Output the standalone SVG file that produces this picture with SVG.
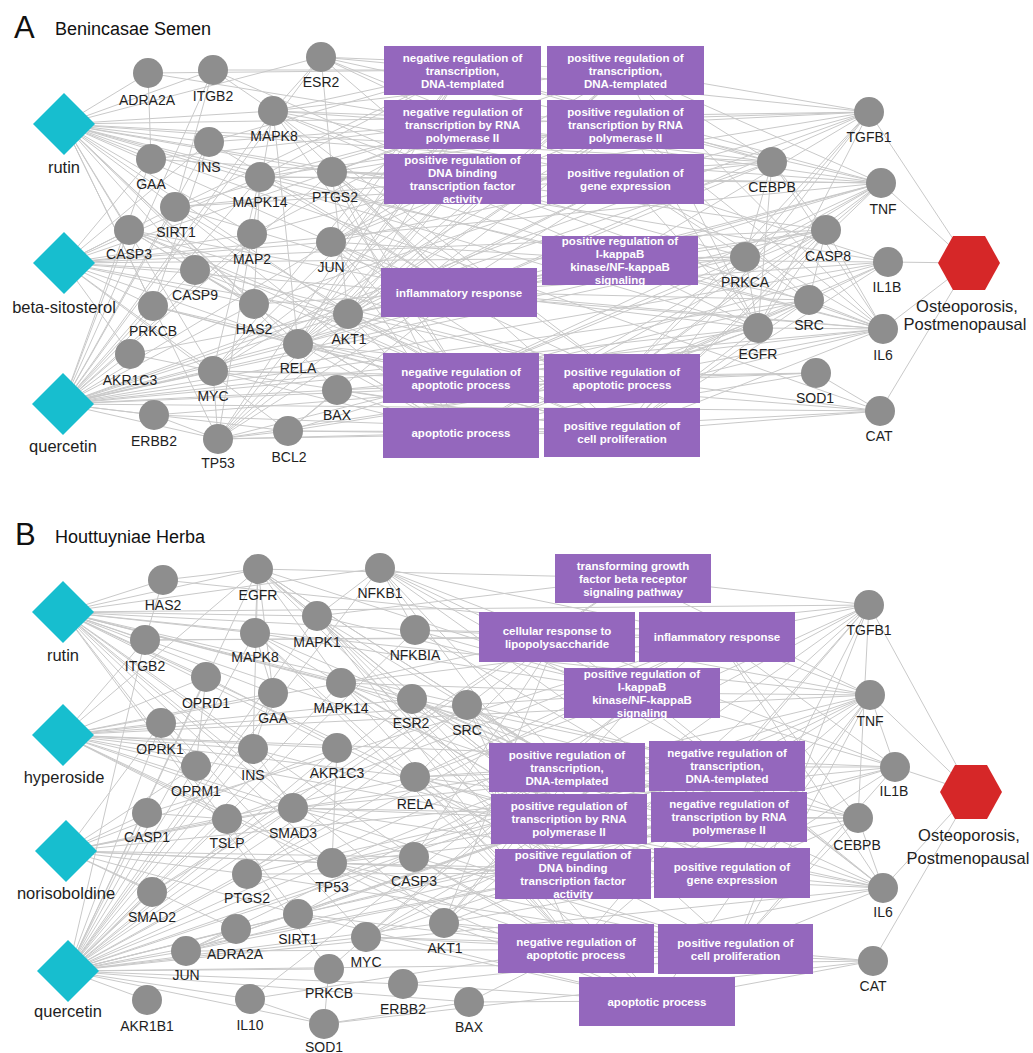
<svg xmlns="http://www.w3.org/2000/svg" xmlns:xlink="http://www.w3.org/1999/xlink" width="1033" height="1053" viewBox="0 0 1033 1053">
<style>
.e{stroke:#c9c9c9;stroke-width:1;fill:none}
.n{fill:#8e8e8e}
.d{fill:#17becf}
.h{fill:#d62728}
.go rect{fill:#9467bd}
.go text{fill:#fff;font-family:"Liberation Sans",Arial,sans-serif;font-weight:bold;font-size:11.5px;text-anchor:middle}
.l{font-family:"Liberation Sans",Arial,sans-serif;font-size:14px;fill:#1e1e1e;text-anchor:middle}
.dl{font-size:16.5px}
.t{font-family:"Liberation Sans",Arial,sans-serif;fill:#111}
</style>
<defs>
<path id="dm" d="M0 -31L31 0L0 31L-31 0Z"/>
<path id="hx" d="M-31 0L-16 -27L16 -27L31 0L16 27L-16 27Z"/>
</defs>
<rect width="1033" height="1053" fill="#fff"/>
<g id="titles">
<text class="t" x="14" y="38" font-size="31">A</text>
<text class="t" x="55" y="35" font-size="18">Benincasae Semen</text>
<text class="t" x="15" y="545" font-size="31">B</text>
<text class="t" x="55" y="543" font-size="18">Houttuyniae Herba</text>
</g>
<g id="connectors">
<path class="e" d="M64 124L148 73M64 124L213 70M64 124L321 57M64 124L273 111M64 124L151 159M64 124L209 142M64 124L260 177M64 124L332 172M64 124L175 207M64 124L129 230M64 124L252 234M64 124L331 242M64 124L195 270M64 124L254 304M64 124L348 314M64 124L298 344M64 124L213 371M64 124L337 390M64 124L218 439M64 124L153 306M64 124L869 112M64 124L772 162M64 124L881 183M64 124L888 262M64 124L883 329M64 124L880 411M64 124L758 328"/>
<path class="e" d="M64 263L175 207M64 263L129 230M64 263L252 234M64 263L331 242M64 263L195 270M64 263L153 306M64 263L254 304M64 263L348 314M64 263L298 344M64 263L130 354M64 263L213 371M64 263L332 172M64 263L260 177M64 263L151 159M64 263L288 431M64 263L209 142M64 263L881 183M64 263L883 329M64 263L826 230M64 263L745 257"/>
<path class="e" d="M63 404L154 415M63 404L218 439M63 404L288 431M63 404L213 371M63 404L130 354M63 404L153 306M63 404L129 230M63 404L175 207M63 404L151 159M63 404L209 142M63 404L273 111M63 404L260 177M63 404L195 270M63 404L254 304M63 404L298 344M63 404L337 390M63 404L348 314M63 404L331 242M63 404L252 234M63 404L332 172M63 404L321 57M63 404L213 70M63 404L869 112M63 404L772 162M63 404L881 183M63 404L826 230M63 404L745 257M63 404L888 262M63 404L809 300M63 404L758 328M63 404L883 329M63 404L816 373M63 404L880 411"/>
<path class="e" d="M148 73L151 159M148 73L462 70M148 73L462 124M213 70L462 70M213 70L462 179M213 70L175 207M213 70L273 111M321 57L462 70M321 57L625 70M321 57L462 124M321 57L625 124M321 57L625 179M321 57L332 172M321 57L462 179M321 57L273 111"/>
<path class="e" d="M273 111L462 70M273 111L625 70M273 111L462 124M273 111L625 124M273 111L462 179M273 111L625 179M273 111L620 260M273 111L459 292M273 111L461 378M273 111L622 378M273 111L252 234M273 111L298 344M151 159L462 124M151 159L462 179M209 142L462 70M209 142L462 124M209 142L459 292M209 142L153 306"/>
<path class="e" d="M260 177L462 70M260 177L462 124M260 177L625 124M260 177L462 179M260 177L625 179M260 177L620 260M260 177L459 292M260 177L254 304M260 177L213 371M332 172L625 70M332 172L462 124M332 172L625 124M332 172L462 179M332 172L625 179M332 172L620 260M332 172L459 292M332 172L461 378M332 172L622 378M332 172L461 433M332 172L622 432M332 172L348 314"/>
<path class="e" d="M175 207L462 70M175 207L462 124M175 207L462 179M175 207L625 179M175 207L459 292M175 207L461 378M175 207L461 433M129 230L459 292M129 230L461 378M129 230L622 378M129 230L461 433M129 230L622 432M129 230L195 270M252 234L462 124M252 234L462 179M252 234L218 439"/>
<path class="e" d="M331 242L462 70M331 242L625 70M331 242L462 124M331 242L625 124M331 242L462 179M331 242L625 179M331 242L620 260M331 242L459 292M331 242L461 378M331 242L622 378M331 242L461 433M331 242L622 432M195 270L461 378M195 270L622 378M195 270L461 433M195 270L254 304M153 306L461 378M153 306L622 432M153 306L298 344M254 304L459 292M254 304L625 179"/>
<path class="e" d="M348 314L625 70M348 314L462 124M348 314L625 124M348 314L462 179M348 314L625 179M348 314L620 260M348 314L459 292M348 314L461 378M348 314L622 378M348 314L461 433M348 314L622 432M298 344L462 70M298 344L625 70M298 344L462 124M298 344L625 124M298 344L462 179M298 344L625 179M298 344L620 260M298 344L459 292M298 344L461 378M298 344L622 378M298 344L461 433M298 344L622 432"/>
<path class="e" d="M130 354L459 292M130 354L213 371M213 371L462 70M213 371L462 124M213 371L625 124M213 371L462 179M213 371L461 378M213 371L622 378M213 371L461 433M213 371L622 432M213 371L218 439M337 390L461 378M337 390L622 378M337 390L461 433M337 390L622 432M337 390L288 431M154 415L622 432M154 415L622 378M154 415L218 439"/>
<path class="e" d="M218 439L462 70M218 439L625 70M218 439L462 124M218 439L625 124M218 439L462 179M218 439L625 179M218 439L461 378M218 439L622 378M218 439L461 433M218 439L622 432M218 439L288 431M288 431L459 292M288 431L461 378M288 431L622 378M288 431L461 433M288 431L622 432"/>
<path class="e" d="M869 112L969 263M869 112L462 70M869 112L625 70M869 112L462 124M869 112L625 124M869 112L462 179M869 112L625 179M869 112L620 260M869 112L459 292M869 112L622 378M869 112L622 432M869 112L758 328M869 112L745 257M772 162L462 70M772 162L625 70M772 162L462 124M772 162L625 124M772 162L462 179M772 162L625 179M772 162L459 292M772 162L745 257M772 162L758 328M772 162L826 230M772 162L883 329"/>
<path class="e" d="M881 183L969 263M881 183L462 70M881 183L625 70M881 183L462 124M881 183L625 124M881 183L462 179M881 183L625 179M881 183L620 260M881 183L459 292M881 183L461 378M881 183L622 378M881 183L461 433M881 183L622 432M881 183L826 230M881 183L745 257M826 230L462 179M826 230L620 260M826 230L459 292M826 230L461 378M826 230L622 378M826 230L461 433M826 230L622 432M826 230L809 300M826 230L883 329M826 230L758 328"/>
<path class="e" d="M745 257L462 179M745 257L625 179M745 257L620 260M745 257L459 292M745 257L461 378M745 257L622 378M745 257L758 328M745 257L809 300M888 262L969 263M888 262L625 179M888 262L620 260M888 262L459 292M888 262L461 378M888 262L622 378M888 262L622 432M888 262L809 300M809 300L625 124M809 300L620 260M809 300L459 292M809 300L461 378M809 300L622 378M809 300L461 433M809 300L622 432M809 300L758 328M809 300L883 329"/>
<path class="e" d="M758 328L625 70M758 328L625 124M758 328L625 179M758 328L620 260M758 328L459 292M758 328L461 378M758 328L622 378M758 328L461 433M758 328L622 432M758 328L883 329M883 329L969 263M883 329L625 70M883 329L625 124M883 329L462 179M883 329L625 179M883 329L620 260M883 329L459 292M883 329L461 378M883 329L622 378M883 329L461 433M883 329L622 432M816 373L461 378M816 373L622 378M816 373L461 433M816 373L880 411M880 411L969 263M880 411L461 378M880 411L622 378M880 411L461 433M880 411L622 432"/>
<path class="e" d="M63 612L163 580M63 612L258 569M63 612L380 568M63 612L145 640M63 612L255 633M63 612L317 616M63 612L415 630M63 612L206 677M63 612L273 693M63 612L341 683M63 612L412 699M63 612L467 705M63 612L253 749M63 612L337 748M63 612L415 777M63 612L293 808M63 612L332 863M63 612L414 857M63 612L298 914M63 612L444 923M63 612L366 937M63 612L329 969M63 612L869 605M63 612L870 695M63 612L858 818M63 612L883 888"/>
<path class="e" d="M63 735L206 677M63 735L273 693M63 735L341 683M63 735L161 723M63 735L196 766M63 735L253 749M63 735L337 748M63 735L415 777M63 735L227 819M63 735L293 808M63 735L332 863M63 735L414 857M63 735L444 923M63 735L412 699M63 735L467 705M63 735L145 640M63 735L258 569M63 735L870 695M63 735L895 767M63 735L883 888"/>
<path class="e" d="M66 851L147 813M66 851L227 819M66 851L293 808M66 851L247 874M66 851L152 892M66 851L196 766M66 851L161 723M66 851L332 863M66 851L298 914M66 851L414 857M66 851L415 777M66 851L337 748M66 851L236 929M66 851L895 767M66 851L883 888"/>
<path class="e" d="M68 971L147 1000M68 971L250 999M68 971L324 1024M68 971L186 951M68 971L236 929M68 971L152 892M68 971L247 874M68 971L298 914M68 971L366 937M68 971L329 969M68 971L403 984M68 971L469 1002M68 971L444 923M68 971L332 863M68 971L414 857M68 971L293 808M68 971L227 819M68 971L147 813M68 971L253 749M68 971L337 748M68 971L415 777M68 971L196 766M68 971L161 723M68 971L206 677M68 971L273 693M68 971L255 633M68 971L317 616M68 971L258 569M68 971L341 683M68 971L412 699M68 971L467 705M68 971L380 568M68 971L415 630M68 971L145 640M68 971L869 605M68 971L870 695M68 971L895 767M68 971L858 818M68 971L883 888M68 971L873 961"/>
<path class="e" d="M163 580L258 569M163 580L717 637M258 569L255 633M258 569L317 616M258 569L341 683M258 569L412 699M258 569L253 749M258 569L273 693M258 569L633 578M258 569L642 693M258 569L567 767M258 569L569 819M258 569L573 874M258 569L732 873M380 568L317 616M380 568L415 630M380 568L557 637M380 568L717 637M380 568L642 693M380 568L567 767M380 568L727 766M380 568L569 819M380 568L729 817M145 640L163 580M145 640L557 637M145 640L717 637"/>
<path class="e" d="M255 633L273 693M255 633L642 693M255 633L567 767M255 633L569 819M255 633L576 948M255 633L657 1001M317 616L633 578M317 616L642 693M317 616L567 767M317 616L569 819M317 616L573 874M317 616L576 948M317 616L657 1001M415 630L557 637M415 630L717 637M415 630L642 693M415 630L729 817M206 677L196 766M206 677L735 949M273 693L253 749"/>
<path class="e" d="M341 683L557 637M341 683L717 637M341 683L642 693M341 683L567 767M341 683L569 819M341 683L573 874M341 683L576 948M412 699L567 767M412 699L727 766M412 699L569 819M412 699L729 817M412 699L573 874M412 699L732 873M467 705L642 693M467 705L567 767M467 705L727 766M467 705L569 819M467 705L573 874M467 705L576 948M467 705L735 949M161 723L196 766M253 749L293 808M253 749L732 873M337 748L332 863"/>
<path class="e" d="M415 777L557 637M415 777L717 637M415 777L642 693M415 777L567 767M415 777L727 766M415 777L569 819M415 777L729 817M415 777L573 874M415 777L732 873M415 777L576 948M147 813L717 637M147 813L227 819M227 819L717 637M227 819L293 808M293 808L633 578M293 808L567 767M293 808L727 766M293 808L569 819M293 808L729 817M293 808L732 873M293 808L735 949M247 874L557 637M247 874L717 637M247 874L727 766M247 874L732 873M247 874L735 949"/>
<path class="e" d="M332 863L567 767M332 863L727 766M332 863L569 819M332 863L729 817M332 863L573 874M332 863L732 873M332 863L576 948M332 863L735 949M332 863L657 1001M414 857L576 948M414 857L735 949M414 857L657 1001M414 857L557 637M152 892L633 578M152 892L293 808M298 914L567 767M298 914L727 766M298 914L729 817M298 914L576 948M298 914L657 1001M236 929L186 951"/>
<path class="e" d="M444 923L557 637M444 923L642 693M444 923L567 767M444 923L569 819M444 923L573 874M444 923L732 873M444 923L576 948M444 923L735 949M444 923L657 1001M366 937L567 767M366 937L727 766M366 937L569 819M366 937L729 817M366 937L576 948M366 937L735 949M366 937L657 1001M186 951L567 767M186 951L727 766M186 951L569 819M186 951L729 817M186 951L573 874M186 951L735 949"/>
<path class="e" d="M329 969L642 693M329 969L324 1024M403 984L735 949M403 984L657 1001M469 1002L576 948M469 1002L657 1001M250 999L717 637M250 999L576 948M250 999L324 1024M324 1024L469 1002M324 1024L873 961"/>
<path class="e" d="M869 605L971 792M869 605L633 578M869 605L557 637M869 605L717 637M869 605L567 767M869 605L727 766M869 605L569 819M869 605L573 874M869 605L732 873M869 605L576 948M869 605L735 949M869 605L858 818M870 695L971 792M870 695L633 578M870 695L557 637M870 695L717 637M870 695L642 693M870 695L567 767M870 695L727 766M870 695L569 819M870 695L573 874M870 695L732 873M870 695L576 948M870 695L735 949M870 695L657 1001M870 695L895 767"/>
<path class="e" d="M895 767L971 792M895 767L557 637M895 767L717 637M895 767L642 693M895 767L567 767M895 767L729 817M895 767L732 873M895 767L735 949M858 818L717 637M858 818L567 767M858 818L727 766M858 818L569 819M858 818L729 817M858 818L732 873M858 818L735 949M858 818L883 888M883 888L971 792M883 888L557 637M883 888L717 637M883 888L642 693M883 888L727 766M883 888L569 819M883 888L729 817M883 888L732 873M883 888L576 948M883 888L735 949M873 961L971 792M873 961L576 948M873 961L735 949M873 961L657 1001"/>
</g>
<g id="A-go" class="go">
<g id="A-go1"><rect x="384" y="46" width="157" height="49"/><text><tspan x="462.5" y="61.5">negative regulation of</tspan><tspan x="462.5" y="74.5">transcription,</tspan><tspan x="462.5" y="87.5">DNA-templated</tspan></text></g>
<g id="A-go2"><rect x="547" y="46" width="157" height="49"/><text><tspan x="625.5" y="61.5">positive regulation of</tspan><tspan x="625.5" y="74.5">transcription,</tspan><tspan x="625.5" y="87.5">DNA-templated</tspan></text></g>
<g id="A-go3"><rect x="384" y="100" width="157" height="49"/><text><tspan x="462.5" y="115.5">negative regulation of</tspan><tspan x="462.5" y="128.5">transcription by RNA</tspan><tspan x="462.5" y="141.5">polymerase II</tspan></text></g>
<g id="A-go4"><rect x="547" y="100" width="157" height="49"/><text><tspan x="625.5" y="115.5">positive regulation of</tspan><tspan x="625.5" y="128.5">transcription by RNA</tspan><tspan x="625.5" y="141.5">polymerase II</tspan></text></g>
<g id="A-go5"><rect x="384" y="154" width="157" height="50"/><text><tspan x="462.5" y="163.5">positive regulation of</tspan><tspan x="462.5" y="176.5">DNA binding</tspan><tspan x="462.5" y="189.5">transcription factor</tspan><tspan x="462.5" y="202.5">activity</tspan></text></g>
<g id="A-go6"><rect x="547" y="154" width="157" height="50"/><text><tspan x="625.5" y="176.5">positive regulation of</tspan><tspan x="625.5" y="189.5">gene expression</tspan></text></g>
<g id="A-go7"><rect x="542" y="236" width="156" height="49"/><text><tspan x="620" y="245">positive regulation of</tspan><tspan x="620" y="258">I-kappaB</tspan><tspan x="620" y="271">kinase/NF-kappaB</tspan><tspan x="620" y="284">signaling</tspan></text></g>
<g id="A-go8"><rect x="381" y="268" width="156" height="49"/><text x="459" y="296.5">inflammatory response</text></g>
<g id="A-go9"><rect x="383" y="353" width="156" height="50"/><text><tspan x="461" y="375.5">negative regulation of</tspan><tspan x="461" y="388.5">apoptotic process</tspan></text></g>
<g id="A-go10"><rect x="544" y="354" width="156" height="49"/><text><tspan x="622" y="376">positive regulation of</tspan><tspan x="622" y="389">apoptotic process</tspan></text></g>
<g id="A-go11"><rect x="383" y="408" width="156" height="50"/><text x="461" y="437">apoptotic process</text></g>
<g id="A-go12"><rect x="544" y="408" width="156" height="49"/><text><tspan x="622" y="430">positive regulation of</tspan><tspan x="622" y="443">cell proliferation</tspan></text></g>
</g>
<g id="B-go" class="go">
<g id="B-go1"><rect x="555" y="554" width="156" height="49"/><text><tspan x="633" y="569.5">transforming growth</tspan><tspan x="633" y="582.5">factor beta receptor</tspan><tspan x="633" y="595.5">signaling pathway</tspan></text></g>
<g id="B-go2"><rect x="479" y="612" width="156" height="50"/><text><tspan x="557" y="634.5">cellular response to</tspan><tspan x="557" y="647.5">lipopolysaccharide</tspan></text></g>
<g id="B-go3"><rect x="639" y="612" width="156" height="50"/><text x="717" y="641">inflammatory response</text></g>
<g id="B-go4"><rect x="564" y="668" width="156" height="50"/><text><tspan x="642" y="677.5">positive regulation of</tspan><tspan x="642" y="690.5">I-kappaB</tspan><tspan x="642" y="703.5">kinase/NF-kappaB</tspan><tspan x="642" y="716.5">signaling</tspan></text></g>
<g id="B-go5"><rect x="489" y="743" width="156" height="49"/><text><tspan x="567" y="758.5">positive regulation of</tspan><tspan x="567" y="771.5">transcription,</tspan><tspan x="567" y="784.5">DNA-templated</tspan></text></g>
<g id="B-go6"><rect x="649" y="741" width="156" height="50"/><text><tspan x="727" y="757">negative regulation of</tspan><tspan x="727" y="770">transcription,</tspan><tspan x="727" y="783">DNA-templated</tspan></text></g>
<g id="B-go7"><rect x="491" y="794" width="156" height="50"/><text><tspan x="569" y="810">positive regulation of</tspan><tspan x="569" y="823">transcription by RNA</tspan><tspan x="569" y="836">polymerase II</tspan></text></g>
<g id="B-go8"><rect x="651" y="792" width="156" height="50"/><text><tspan x="729" y="808">negative regulation of</tspan><tspan x="729" y="821">transcription by RNA</tspan><tspan x="729" y="834">polymerase II</tspan></text></g>
<g id="B-go9"><rect x="495" y="849" width="156" height="50"/><text><tspan x="573" y="858.5">positive regulation of</tspan><tspan x="573" y="871.5">DNA binding</tspan><tspan x="573" y="884.5">transcription factor</tspan><tspan x="573" y="897.5">activity</tspan></text></g>
<g id="B-go10"><rect x="654" y="848" width="156" height="50"/><text><tspan x="732" y="870.5">positive regulation of</tspan><tspan x="732" y="883.5">gene expression</tspan></text></g>
<g id="B-go11"><rect x="498" y="924" width="156" height="49"/><text><tspan x="576" y="946">negative regulation of</tspan><tspan x="576" y="959">apoptotic process</tspan></text></g>
<g id="B-go12"><rect x="658" y="924" width="155" height="50"/><text><tspan x="735.5" y="946.5">positive regulation of</tspan><tspan x="735.5" y="959.5">cell proliferation</tspan></text></g>
<g id="B-go13"><rect x="579" y="977" width="156" height="49"/><text x="657" y="1005.5">apoptotic process</text></g>
</g>
<g id="A-compounds">
<g id="A-rutin"><use xlink:href="#dm" x="64" y="124" class="d"/><text class="l dl" x="64" y="173">rutin</text></g>
<g id="A-beta-sitosterol"><use xlink:href="#dm" x="64" y="263" class="d"/><text class="l dl" x="64" y="313">beta-sitosterol</text></g>
<g id="A-quercetin"><use xlink:href="#dm" x="63" y="404" class="d"/><text class="l dl" x="63" y="452">quercetin</text></g>
</g>
<g id="A-targets">
<g id="A-ADRA2A"><circle class="n" cx="148" cy="73" r="15"/><text class="l" x="147" y="105">ADRA2A</text></g>
<g id="A-ITGB2"><circle class="n" cx="213" cy="70" r="15"/><text class="l" x="213" y="101">ITGB2</text></g>
<g id="A-ESR2"><circle class="n" cx="321" cy="57" r="15"/><text class="l" x="321" y="87">ESR2</text></g>
<g id="A-MAPK8"><circle class="n" cx="273" cy="111" r="15"/><text class="l" x="274" y="141">MAPK8</text></g>
<g id="A-GAA"><circle class="n" cx="151" cy="159" r="15"/><text class="l" x="151" y="189">GAA</text></g>
<g id="A-INS"><circle class="n" cx="209" cy="142" r="15"/><text class="l" x="209" y="172">INS</text></g>
<g id="A-MAPK14"><circle class="n" cx="260" cy="177" r="15"/><text class="l" x="260" y="207">MAPK14</text></g>
<g id="A-PTGS2"><circle class="n" cx="332" cy="172" r="15"/><text class="l" x="335" y="202">PTGS2</text></g>
<g id="A-SIRT1"><circle class="n" cx="175" cy="207" r="15"/><text class="l" x="176" y="237">SIRT1</text></g>
<g id="A-CASP3"><circle class="n" cx="129" cy="230" r="15"/><text class="l" x="129" y="259">CASP3</text></g>
<g id="A-MAP2"><circle class="n" cx="252" cy="234" r="15"/><text class="l" x="252" y="264">MAP2</text></g>
<g id="A-JUN"><circle class="n" cx="331" cy="242" r="15"/><text class="l" x="331" y="272">JUN</text></g>
<g id="A-CASP9"><circle class="n" cx="195" cy="270" r="15"/><text class="l" x="195" y="300">CASP9</text></g>
<g id="A-PRKCB"><circle class="n" cx="153" cy="306" r="15"/><text class="l" x="153" y="336">PRKCB</text></g>
<g id="A-HAS2"><circle class="n" cx="254" cy="304" r="15"/><text class="l" x="254" y="334">HAS2</text></g>
<g id="A-AKT1"><circle class="n" cx="348" cy="314" r="15"/><text class="l" x="349" y="344">AKT1</text></g>
<g id="A-RELA"><circle class="n" cx="298" cy="344" r="15"/><text class="l" x="298" y="373">RELA</text></g>
<g id="A-AKR1C3"><circle class="n" cx="130" cy="354" r="15"/><text class="l" x="130" y="385">AKR1C3</text></g>
<g id="A-MYC"><circle class="n" cx="213" cy="371" r="15"/><text class="l" x="213" y="401">MYC</text></g>
<g id="A-BAX"><circle class="n" cx="337" cy="390" r="15"/><text class="l" x="337" y="420">BAX</text></g>
<g id="A-ERBB2"><circle class="n" cx="154" cy="415" r="15"/><text class="l" x="154" y="446">ERBB2</text></g>
<g id="A-TP53"><circle class="n" cx="218" cy="439" r="15"/><text class="l" x="218" y="468">TP53</text></g>
<g id="A-BCL2"><circle class="n" cx="288" cy="431" r="15"/><text class="l" x="289" y="462">BCL2</text></g>
<g id="A-TGFB1"><circle class="n" cx="869" cy="112" r="15"/><text class="l" x="869" y="142">TGFB1</text></g>
<g id="A-CEBPB"><circle class="n" cx="772" cy="162" r="15"/><text class="l" x="772" y="192">CEBPB</text></g>
<g id="A-TNF"><circle class="n" cx="881" cy="183" r="15"/><text class="l" x="883" y="214">TNF</text></g>
<g id="A-CASP8"><circle class="n" cx="826" cy="230" r="15"/><text class="l" x="828" y="261">CASP8</text></g>
<g id="A-PRKCA"><circle class="n" cx="745" cy="257" r="15"/><text class="l" x="745" y="287">PRKCA</text></g>
<g id="A-IL1B"><circle class="n" cx="888" cy="262" r="15"/><text class="l" x="887" y="292">IL1B</text></g>
<g id="A-SRC"><circle class="n" cx="809" cy="300" r="15"/><text class="l" x="809" y="330">SRC</text></g>
<g id="A-EGFR"><circle class="n" cx="758" cy="328" r="15"/><text class="l" x="758" y="359">EGFR</text></g>
<g id="A-IL6"><circle class="n" cx="883" cy="329" r="15"/><text class="l" x="883" y="360">IL6</text></g>
<g id="A-SOD1"><circle class="n" cx="816" cy="373" r="15"/><text class="l" x="815" y="403">SOD1</text></g>
<g id="A-CAT"><circle class="n" cx="880" cy="411" r="15"/><text class="l" x="879" y="441">CAT</text></g>
</g>
<g id="A-disease"><use xlink:href="#hx" x="969" y="263" class="h"/><text class="l dl" x="967" y="312">Osteoporosis,</text><text class="l dl" x="965" y="330">Postmenopausal</text></g>
<g id="B-compounds">
<g id="B-rutin"><use xlink:href="#dm" x="63" y="612" class="d"/><text class="l dl" x="63" y="661">rutin</text></g>
<g id="B-hyperoside"><use xlink:href="#dm" x="63" y="735" class="d"/><text class="l dl" x="64" y="783">hyperoside</text></g>
<g id="B-norisoboldine"><use xlink:href="#dm" x="66" y="851" class="d"/><text class="l dl" x="66" y="899">norisoboldine</text></g>
<g id="B-quercetin"><use xlink:href="#dm" x="68" y="971" class="d"/><text class="l dl" x="68" y="1017">quercetin</text></g>
</g>
<g id="B-targets">
<g id="B-HAS2"><circle class="n" cx="163" cy="580" r="15"/><text class="l" x="163" y="610">HAS2</text></g>
<g id="B-EGFR"><circle class="n" cx="258" cy="569" r="15"/><text class="l" x="258" y="600">EGFR</text></g>
<g id="B-NFKB1"><circle class="n" cx="380" cy="568" r="15"/><text class="l" x="380" y="598">NFKB1</text></g>
<g id="B-ITGB2"><circle class="n" cx="145" cy="640" r="15"/><text class="l" x="145" y="671">ITGB2</text></g>
<g id="B-MAPK8"><circle class="n" cx="255" cy="633" r="15"/><text class="l" x="255" y="662">MAPK8</text></g>
<g id="B-MAPK1"><circle class="n" cx="317" cy="616" r="15"/><text class="l" x="317" y="647">MAPK1</text></g>
<g id="B-NFKBIA"><circle class="n" cx="415" cy="630" r="15"/><text class="l" x="415" y="660">NFKBIA</text></g>
<g id="B-OPRD1"><circle class="n" cx="206" cy="677" r="15"/><text class="l" x="206" y="708">OPRD1</text></g>
<g id="B-GAA"><circle class="n" cx="273" cy="693" r="15"/><text class="l" x="273" y="723">GAA</text></g>
<g id="B-MAPK14"><circle class="n" cx="341" cy="683" r="15"/><text class="l" x="341" y="713">MAPK14</text></g>
<g id="B-ESR2"><circle class="n" cx="412" cy="699" r="15"/><text class="l" x="411" y="728">ESR2</text></g>
<g id="B-SRC"><circle class="n" cx="467" cy="705" r="15"/><text class="l" x="467" y="735">SRC</text></g>
<g id="B-OPRK1"><circle class="n" cx="161" cy="723" r="15"/><text class="l" x="160" y="754">OPRK1</text></g>
<g id="B-OPRM1"><circle class="n" cx="196" cy="766" r="15"/><text class="l" x="196" y="796">OPRM1</text></g>
<g id="B-INS"><circle class="n" cx="253" cy="749" r="15"/><text class="l" x="253" y="780">INS</text></g>
<g id="B-AKR1C3"><circle class="n" cx="337" cy="748" r="15"/><text class="l" x="337" y="778">AKR1C3</text></g>
<g id="B-RELA"><circle class="n" cx="415" cy="777" r="15"/><text class="l" x="415" y="809">RELA</text></g>
<g id="B-CASP1"><circle class="n" cx="147" cy="813" r="15"/><text class="l" x="147" y="842">CASP1</text></g>
<g id="B-TSLP"><circle class="n" cx="227" cy="819" r="15"/><text class="l" x="227" y="848">TSLP</text></g>
<g id="B-SMAD3"><circle class="n" cx="293" cy="808" r="15"/><text class="l" x="293" y="838">SMAD3</text></g>
<g id="B-PTGS2"><circle class="n" cx="247" cy="874" r="15"/><text class="l" x="247" y="903">PTGS2</text></g>
<g id="B-TP53"><circle class="n" cx="332" cy="863" r="15"/><text class="l" x="332" y="892">TP53</text></g>
<g id="B-CASP3"><circle class="n" cx="414" cy="857" r="15"/><text class="l" x="414" y="886">CASP3</text></g>
<g id="B-SMAD2"><circle class="n" cx="152" cy="892" r="15"/><text class="l" x="152" y="922">SMAD2</text></g>
<g id="B-SIRT1"><circle class="n" cx="298" cy="914" r="15"/><text class="l" x="298" y="944">SIRT1</text></g>
<g id="B-ADRA2A"><circle class="n" cx="236" cy="929" r="15"/><text class="l" x="235" y="959">ADRA2A</text></g>
<g id="B-AKT1"><circle class="n" cx="444" cy="923" r="15"/><text class="l" x="445" y="953">AKT1</text></g>
<g id="B-MYC"><circle class="n" cx="366" cy="937" r="15"/><text class="l" x="366" y="967">MYC</text></g>
<g id="B-JUN"><circle class="n" cx="186" cy="951" r="15"/><text class="l" x="186" y="980">JUN</text></g>
<g id="B-PRKCB"><circle class="n" cx="329" cy="969" r="15"/><text class="l" x="329" y="998">PRKCB</text></g>
<g id="B-ERBB2"><circle class="n" cx="403" cy="984" r="15"/><text class="l" x="403" y="1014">ERBB2</text></g>
<g id="B-BAX"><circle class="n" cx="469" cy="1002" r="15"/><text class="l" x="469" y="1032">BAX</text></g>
<g id="B-AKR1B1"><circle class="n" cx="147" cy="1000" r="15"/><text class="l" x="147" y="1031">AKR1B1</text></g>
<g id="B-IL10"><circle class="n" cx="250" cy="999" r="15"/><text class="l" x="250" y="1030">IL10</text></g>
<g id="B-SOD1"><circle class="n" cx="324" cy="1024" r="15"/><text class="l" x="324" y="1052">SOD1</text></g>
<g id="B-TGFB1"><circle class="n" cx="869" cy="605" r="15"/><text class="l" x="869" y="635">TGFB1</text></g>
<g id="B-TNF"><circle class="n" cx="870" cy="695" r="15"/><text class="l" x="870" y="726">TNF</text></g>
<g id="B-IL1B"><circle class="n" cx="895" cy="767" r="15"/><text class="l" x="894" y="796">IL1B</text></g>
<g id="B-CEBPB"><circle class="n" cx="858" cy="818" r="15"/><text class="l" x="857" y="850">CEBPB</text></g>
<g id="B-IL6"><circle class="n" cx="883" cy="888" r="15"/><text class="l" x="883" y="917">IL6</text></g>
<g id="B-CAT"><circle class="n" cx="873" cy="961" r="15"/><text class="l" x="873" y="991">CAT</text></g>
</g>
<g id="B-disease"><use xlink:href="#hx" x="971" y="792" class="h"/><text class="l dl" x="969" y="841">Osteoporosis,</text><text class="l dl" x="968" y="864">Postmenopausal</text></g>
</svg>
